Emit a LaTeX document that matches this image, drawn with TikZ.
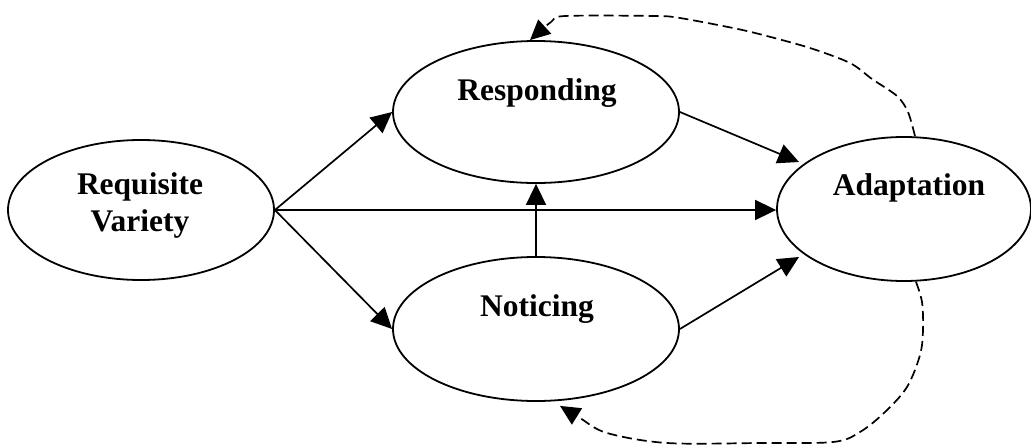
\documentclass[tikz,border=0pt]{standalone}
\usepackage{fontspec}
\setmainfont{Liberation Serif}
\usetikzlibrary{arrows.meta,calc,shapes.geometric}
\begin{document}
\begin{tikzpicture}[x=1pt,y=-1pt,
  oval/.style={draw,ellipse,line width=1.8pt,inner sep=0pt},
  lbl/.style={inner sep=0pt,font=\bfseries\fontsize{31.5}{37}\selectfont,align=center},
  arr/.style={line width=1.7pt,-{Triangle[length=21pt,width=20pt]}},
  dasharr/.style={line width=1.7pt,dash pattern=on 10pt off 5pt,-{Triangle[length=20pt,width=19pt]}}]
\useasboundingbox (0,0) rectangle (1031,447);
\node[oval,minimum width=266pt,minimum height=140pt] (RV) at (141,210) {};
\node[oval,minimum width=286pt,minimum height=142pt] (R) at (536,112) {};
\node[oval,minimum width=286pt,minimum height=144pt] (N) at (536,329) {};
\node[oval,minimum width=254pt,minimum height=144pt] (A) at (904,209) {};
\node[lbl,anchor=center] (RVt) at (140,205) {Requisite\\Variety};
\node[lbl,anchor=base] (Rt) at (537,100) {Responding};
\node[lbl,anchor=base] (Nt) at (537,316) {Noticing};
\node[lbl,anchor=base] (At) at (909,195) {Adaptation};
% solid arrows
\draw[arr] (RV.east) -- (R.west);
\draw[arr] (RV.east) -- (RV.east -| A.west);
\draw[arr] (RV.east) -- (N.west);
\draw[arr] (N.north) -- (R.south);
\draw[arr] (R.east) -- ($(A.center)+(-105,-47)$);
\draw[arr] (N.east) -- ($(A.center)+(-105,48)$);
% dashed feedback
\coordinate (ts) at ($(A.north)+(11,0)$);
\coordinate (te) at ($(R.north)+(-6,0)$);
\coordinate (bs) at ($(A.south)+(12,0)$);
\coordinate (be) at ($(N.south)+(24,4)$);
\draw[dasharr] plot[smooth,tension=0.5] coordinates {(ts) (908,112) (897,96) (872,79) (850,63) (810,48) (763,35) (733,28) (680,18) (655,16) (565,16) (551,22) (te)};
\draw[dasharr] plot[smooth,tension=0.55] coordinates {(bs) (922,302) (923,330) (920,355) (907,387) (885,412) (860,432) (833,442) (760,443) (667,443) (607,433) (580,418) (be)};
\end{tikzpicture}
\end{document}
